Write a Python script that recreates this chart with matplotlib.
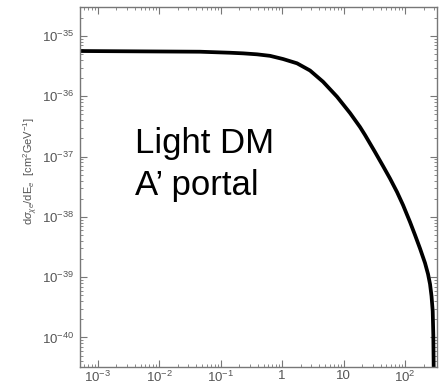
import matplotlib
matplotlib.use("Agg")
import matplotlib.pyplot as plt
from matplotlib.ticker import FixedLocator, FixedFormatter, LogLocator, NullFormatter

# curve (E_e in GeV, dsigma/dE in cm^2/GeV)
energy = [5.19e-4, 0.0464, 0.1427, 0.2322, 0.3922, 0.638, 1.038, 1.754, 2.853,
          4.642, 7.84, 12.76, 18.55, 22.37, 32.52, 43.88, 57.03, 74.13, 92.8,
          120.6, 145.4, 175.4, 211.5, 236.6, 255.0, 269.7, 282.1, 288.5, 292.9]
dsigma = [5.64e-36, 5.49e-36, 5.28e-36, 5.16e-36, 4.97e-36, 4.69e-36, 4.155e-36,
          3.526e-36, 2.679e-36, 1.746e-36, 9.85e-37, 5.28e-37, 3.096e-37, 2.282e-37,
          1.192e-37, 6.98e-38, 4.33e-38, 2.588e-38, 1.575e-38, 8.23e-39, 5.01e-39,
          2.99e-39, 1.72e-39, 1.13e-39, 7.71e-40, 4.88e-40, 2.75e-40, 1.10e-40, 2.89e-41]

xticks = [1e-3, 1e-2, 1e-1, 1, 10, 100]
xlabels = ["$10^{-3}$", "$10^{-2}$", "$10^{-1}$", "1", "10", "$10^{2}$"]
yticks = [1e-40, 1e-39, 1e-38, 1e-37, 1e-36, 1e-35]
ylabels = ["$10^{-40}$", "$10^{-39}$", "$10^{-38}$", "$10^{-37}$", "$10^{-36}$", "$10^{-35}$"]

plt.rcParams["font.family"] = ["Liberation Sans", "DejaVu Sans"]
plt.rcParams["mathtext.fontset"] = "custom"
plt.rcParams["mathtext.rm"] = "Liberation Sans"
plt.rcParams["mathtext.it"] = "Liberation Sans:italic"
plt.rcParams["mathtext.bf"] = "Liberation Sans:bold"

grey = "#555555"
fig = plt.figure(figsize=(4.48, 3.86), dpi=100)
ax = fig.add_axes([0.1786, 0.0492, 0.7968, 0.9327])

ax.plot(energy, dsigma, color="black", lw=2.7, solid_joinstyle="round")
ax.set_xscale("log")
ax.set_yscale("log")
ax.set_xlim(5.19e-4, 331)
ax.set_ylim(3.24e-41, 3.03e-35)

ax.xaxis.set_major_locator(FixedLocator(xticks))
ax.xaxis.set_major_formatter(FixedFormatter(xlabels))
ax.yaxis.set_major_locator(FixedLocator(yticks))
ax.yaxis.set_major_formatter(FixedFormatter(ylabels))
ax.xaxis.set_minor_locator(LogLocator(base=10, subs=range(2, 10), numticks=20))
ax.yaxis.set_minor_locator(LogLocator(base=10, subs=range(2, 10), numticks=20))
ax.xaxis.set_minor_formatter(NullFormatter())
ax.yaxis.set_minor_formatter(NullFormatter())

ax.tick_params(which="both", direction="in", top=True, right=True, color="#777777",
               labelcolor=grey, labelsize=9.5)
ax.tick_params(which="major", length=5, width=0.8)
ax.tick_params(axis="x", which="major", pad=2)
ax.tick_params(axis="y", which="major", pad=4)
ax.tick_params(which="minor", length=2.5, width=0.6)
for s in ax.spines.values():
    s.set_color("#777777")
    s.set_linewidth(1.0)

fig.text(31 / 448, 1 - 171 / 386,
         r"d$\sigma_{\chi e}$/dE$_e$  [cm$^2$GeV$^{-1}$]",
         rotation=90, ha="center", va="center", color=grey, fontsize=8)

ax.text(0.154, 0.594, "Light DM", transform=ax.transAxes, fontsize=25,
        ha="left", va="baseline", color="black")
ax.text(0.154, 0.478, "A\u2019 portal", transform=ax.transAxes, fontsize=25,
        ha="left", va="baseline", color="black")

fig.savefig("out.png", dpi=100)
